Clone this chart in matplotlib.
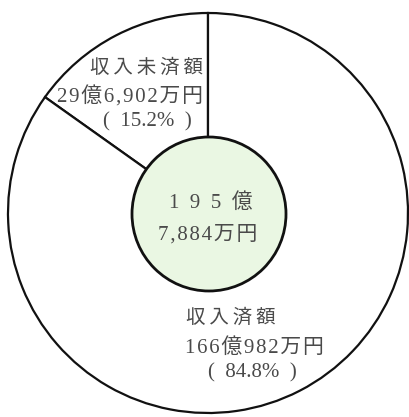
import matplotlib.pyplot as plt
from matplotlib.patches import Circle

# amounts in 万円
labels = ['収入未済額', '収入済額']
amounts = [296902, 1660982]
total = sum(amounts)

FONT = ['Liberation Serif', 'Noto Sans CJK JP']
TXT = '#4a4a4a'
THIN, HAIR, EN = '\u2009', '\u200a', '\u2002'


def oku_man(v):
    oku, man = divmod(v, 10000)
    return f'{oku}億{man:,}万円'


def spaced(s, sep):
    return sep.join(s)


W, H = 409, 417
fig = plt.figure(figsize=(W / 100, H / 100), dpi=100)
ax = fig.add_axes([0, 0, 1, 1])

cx, cy, R = 208, 204, 200
ax.pie(amounts, center=(cx, cy), radius=R, startangle=90, counterclock=True,
       colors=['white', 'white'],
       wedgeprops=dict(edgecolor='#111111', linewidth=1.6))

# center circle
ax.add_patch(Circle((cx + 1, cy - 1), 77, facecolor='#eaf7e3',
                    edgecolor='#111111', linewidth=2.0, zorder=5))

ax.set_xlim(0, W)
ax.set_ylim(0, H)
ax.set_aspect('equal')
ax.axis('off')

pct = [a / total * 100 for a in amounts]
kw = dict(color=TXT, family=FONT, va='center')

# unpaid label (upper left)
ax.text(203, H - 68, spaced(labels[0], THIN), ha='right', fontsize=14, **kw)
ax.text(203, H - 97, spaced(oku_man(amounts[0]), HAIR), ha='right', fontsize=15, **kw)
ax.text(147, H - 122, f'({EN}{pct[0]:.1f}%{EN})', ha='center', fontsize=15, **kw)

# paid label (lower right)
ax.text(186, H - 318, spaced(labels[1], THIN), ha='left', fontsize=14, **kw)
ax.text(185, H - 348, spaced(oku_man(amounts[1]), HAIR), ha='left', fontsize=15, **kw)
ax.text(252, H - 373, f'({EN}{pct[1]:.1f}%{EN})', ha='center', fontsize=15, **kw)

# total in the center
oku, man = divmod(total, 10000)
ax.text(211, H - 203, spaced(f'{oku}億', EN), ha='center', fontsize=15, zorder=6, **kw)
ax.text(208, H - 235, spaced(f'{man:,}万円', HAIR), ha='center', fontsize=15, zorder=6, **kw)

fig.savefig('out.png', dpi=100, facecolor='white')
